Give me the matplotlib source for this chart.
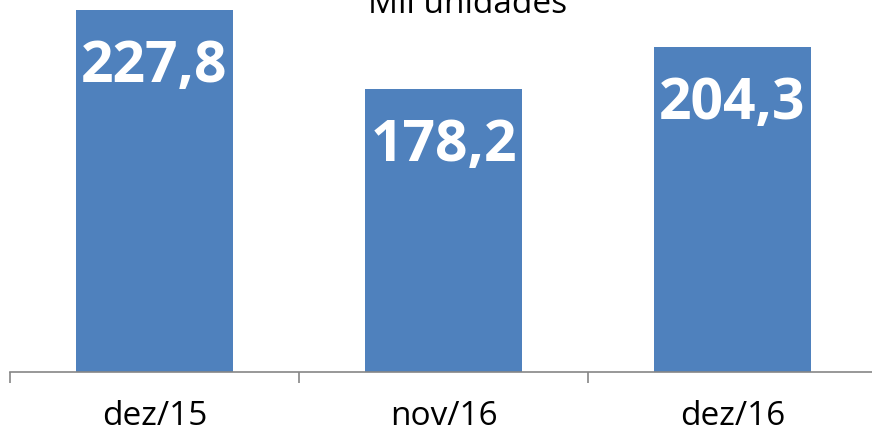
import matplotlib
matplotlib.use("Agg")
import matplotlib.pyplot as plt

categories = ["dez/15", "nov/16", "dez/16"]
values = [227.8, 178.2, 204.3]
value_labels = ["227,8", "178,2", "204,3"]
title = "Mil unidades"

BAR_COLOR = "#4F81BD"
AXIS_COLOR = "#868686"


def plot_data():
    plt.rcParams["font.family"] = ["Open Sans", "DejaVu Sans"]
    fig = plt.figure(figsize=(8.72, 4.33), dpi=100)
    ax = fig.add_axes([10 / 872, 61 / 433, 867 / 872, 372 / 433])

    x = list(range(len(categories)))
    ax.bar(x, values, width=0.54, color=BAR_COLOR)

    for xi, v, lab in zip(x, values, value_labels):
        ax.annotate(lab, (xi, v), xytext=(0, -52), textcoords="offset points",
                    ha="center", va="baseline", color="white",
                    fontsize=41, fontweight="bold")

    ax.set_xlim(-0.5, 2.5)
    ax.set_ylim(0, 234)

    for side in ["top", "right", "left"]:
        ax.spines[side].set_visible(False)
    ax.spines["bottom"].set_color(AXIS_COLOR)
    ax.spines["bottom"].set_linewidth(1.2)

    ax.set_yticks([])
    ax.set_xticks(x)
    ax.set_xticklabels(categories, fontsize=24)
    ax.tick_params(axis="x", which="major", length=0, pad=20)
    ax.set_xticks([-0.5, 0.5, 1.5, 2.5], minor=True)
    ax.tick_params(axis="x", which="minor", length=8, width=1.2,
                   color=AXIS_COLOR, direction="out")

    fig.text(468 / 872, 1 - 13 / 433, title, ha="center", va="baseline",
             fontsize=24)

    fig.savefig("out.png", dpi=100)


def main():
    plot_data()


if __name__ == "__main__":
    main()
